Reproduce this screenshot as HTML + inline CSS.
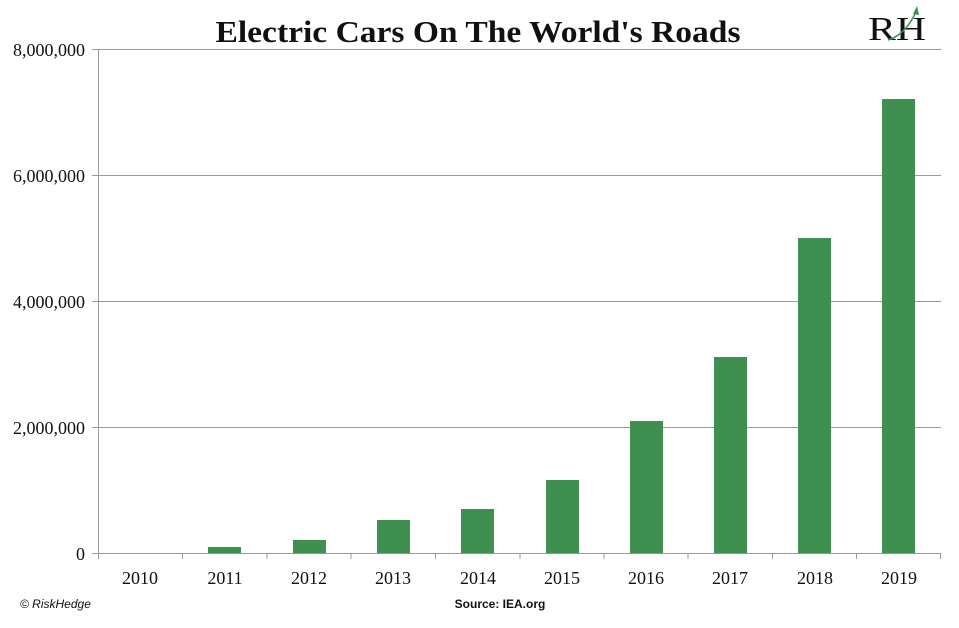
<!DOCTYPE html>
<html><head><style>
body{margin:0;background:#fff;width:959px;height:623px;overflow:hidden}
</style></head><body>
<svg width="959" height="623" xmlns="http://www.w3.org/2000/svg">
<text x="478" y="42" text-anchor="middle" font-family="Liberation Serif, serif" font-weight="bold" font-size="31" fill="#111" textLength="525" lengthAdjust="spacingAndGlyphs">Electric Cars On The World's Roads</text>
<text x="868" y="40" font-family="Liberation Serif, serif" font-size="34" fill="#111" textLength="58" lengthAdjust="spacingAndGlyphs">RH</text>
<path d="M888 40 Q905 35 916 12" stroke="#3f9050" stroke-width="1.5" fill="none"/>
<path d="M913 14 L917 6 L919 15 Z" fill="#3f9050"/>
<g stroke="#999" stroke-width="1">
<line x1="92" y1="49.5" x2="941" y2="49.5"/>
<line x1="92" y1="175.5" x2="941" y2="175.5"/>
<line x1="92" y1="301.5" x2="941" y2="301.5"/>
<line x1="92" y1="427.5" x2="941" y2="427.5"/>
<line x1="92" y1="553.5" x2="941" y2="553.5"/>
<line x1="98.5" y1="49" x2="98.5" y2="553"/>
</g>
<g stroke="#999" stroke-width="1">
<line x1="98.5" y1="553" x2="98.5" y2="559"/><line x1="182.5" y1="553" x2="182.5" y2="559"/><line x1="267" y1="553" x2="267" y2="559"/><line x1="351" y1="553" x2="351" y2="559"/><line x1="435.5" y1="553" x2="435.5" y2="559"/><line x1="520" y1="553" x2="520" y2="559"/><line x1="604" y1="553" x2="604" y2="559"/><line x1="688" y1="553" x2="688" y2="559"/><line x1="772.5" y1="553" x2="772.5" y2="559"/><line x1="856.5" y1="553" x2="856.5" y2="559"/><line x1="940.5" y1="553" x2="940.5" y2="559"/>
</g>
<g fill="#3f9050">
<rect x="208" y="547" width="33" height="6"/>
<rect x="293" y="540" width="33" height="13"/>
<rect x="377" y="520" width="33" height="33"/>
<rect x="461" y="509" width="33" height="44"/>
<rect x="546" y="480" width="33" height="73"/>
<rect x="630" y="421" width="33" height="132"/>
<rect x="714" y="357" width="33" height="196"/>
<rect x="798" y="238" width="33" height="315"/>
<rect x="882" y="99" width="33" height="454"/>
</g>
<g font-family="Liberation Serif, serif" font-size="18" fill="#111" text-anchor="end">
<text x="85" y="56">8,000,000</text>
<text x="85" y="182">6,000,000</text>
<text x="85" y="308">4,000,000</text>
<text x="85" y="434">2,000,000</text>
<text x="85" y="560">0</text>
</g>
<g font-family="Liberation Serif, serif" font-size="18" fill="#111" text-anchor="middle">
<text x="140" y="584">2010</text><text x="225" y="584">2011</text><text x="309" y="584">2012</text><text x="393" y="584">2013</text><text x="478" y="584">2014</text><text x="562" y="584">2015</text><text x="646" y="584">2016</text><text x="730" y="584">2017</text><text x="815" y="584">2018</text><text x="899" y="584">2019</text>
</g>
<text x="20" y="608" font-family="Liberation Sans, sans-serif" font-style="italic" font-size="12" fill="#111">© RiskHedge</text>
<text x="500" y="608" text-anchor="middle" font-family="Liberation Sans, sans-serif" font-weight="bold" font-size="12" fill="#111">Source: IEA.org</text>
</svg>
</body></html>
